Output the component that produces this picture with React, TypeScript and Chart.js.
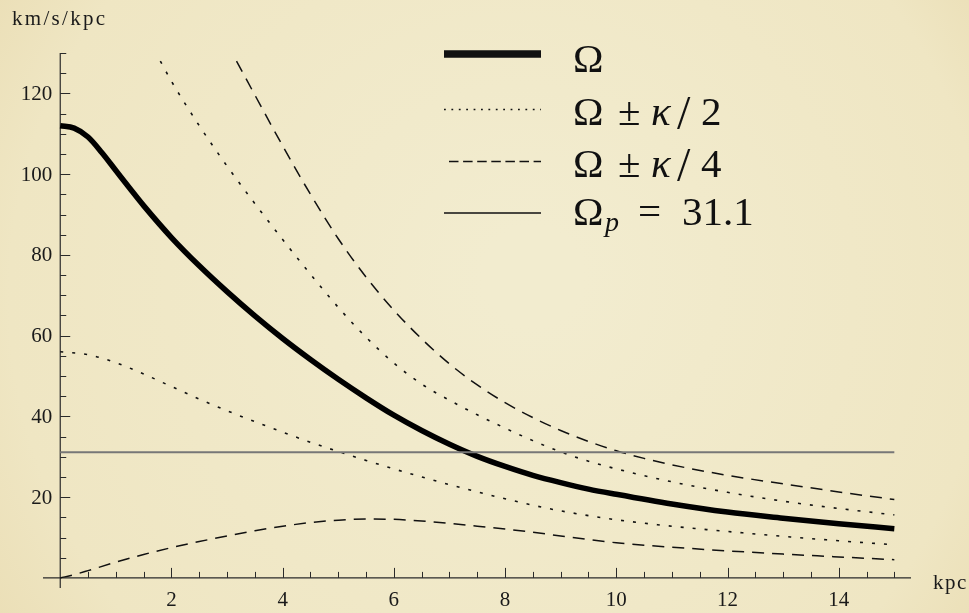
import React, { useEffect, useRef } from 'react';
import { Chart, registerables } from 'chart.js';

Chart.register(...registerables);

// ---------------- data ----------------
const X_OMEGA = [0, 0.25, 0.5, 0.75, 1, 1.25, 1.5, 2, 2.5, 3, 3.5, 4, 4.5, 5, 5.5, 6, 6.5, 7, 7.5, 8, 8.5, 9, 9.5, 10, 11, 12, 13, 14, 15];
const Y_OMEGA = [112, 111.4, 109.2, 105.3, 100.9, 96.5, 92.2, 84.3, 77.3, 70.9, 64.9, 59.3, 54.1, 49.2, 44.6, 40.3, 36.5, 33.1, 30.1, 27.6, 25.4, 23.6, 22.0, 20.7, 18.3, 16.3, 14.8, 13.4, 12.2];

const X_PLUS_K2 = [1.8, 2, 2.5, 3, 3.5, 4, 4.5, 5, 5.5, 6, 6.5, 7, 7.5, 8, 8.5, 9, 9.5, 10, 11, 12, 13, 14, 15];
const Y_PLUS_K2 = [128, 123, 112, 102, 92.7, 83.8, 75.2, 67.0, 59.6, 53.2, 48.0, 44.0, 40.4, 37.1, 34.0, 31.2, 28.9, 27.0, 23.8, 21.2, 19.0, 17.2, 15.6];

const X_MINUS_K2 = [0, 0.5, 1, 1.5, 2, 2.5, 3, 3.5, 4, 4.5, 5, 5.5, 6, 6.5, 7, 7.5, 8, 8.5, 9, 10, 11, 12, 13, 14, 15];
const Y_MINUS_K2 = [56, 55.3, 53.3, 50.5, 47.4, 44.3, 41.4, 38.7, 36.1, 33.6, 31.3, 29.1, 27.0, 25.0, 23.1, 21.3, 19.6, 18.0, 16.6, 14.4, 12.8, 11.5, 10.3, 9.2, 8.2];

const X_PLUS_K4 = [3.17, 3.5, 4, 4.5, 5, 5.5, 6, 6.5, 7, 7.5, 8, 8.5, 9, 9.5, 10, 10.5, 11, 12, 13, 14, 15];
const Y_PLUS_K4 = [128, 119.6, 107.0, 95.0, 84.0, 74.5, 66.3, 59.2, 53.0, 47.8, 43.4, 39.7, 36.5, 33.8, 31.5, 29.6, 28.0, 25.4, 23.3, 21.3, 19.4];

const X_MINUS_K4 = [0, 0.25, 0.5, 1, 1.5, 2, 2.5, 3, 3.5, 4, 4.5, 5, 5.5, 6, 6.5, 7, 7.5, 8, 8.5, 9, 9.5, 10, 10.5, 11, 12, 13, 14, 15];
const Y_MINUS_K4 = [0, 0.8, 1.8, 3.9, 5.8, 7.5, 9.0, 10.4, 11.7, 12.8, 13.7, 14.3, 14.6, 14.5, 14.1, 13.5, 12.8, 12.1, 11.3, 10.4, 9.5, 8.7, 8.1, 7.6, 6.7, 5.9, 5.2, 4.5];

const OMEGA_P = 31.1;
const X_OMEGA_P = [0, 15];

const X_MAJOR_TICKS = [2, 4, 6, 8, 10, 12, 14];
const X_TICK_LABELS = ['2', '4', '6', '8', '10', '12', '14'];
const Y_MAJOR_TICKS = [20, 40, 60, 80, 100, 120];
const Y_TICK_LABELS = ['20', '40', '60', '80', '100', '120'];
const X_MINOR_STEP = 0.5;
const X_TICK_MAX = 15;
const Y_MINOR_STEP = 5;
const Y_TICK_MAX = 130;

const Y_UNIT = 'km/s/kpc';
const X_UNIT = 'kpc';

// ---------------- helpers ----------------
const zip = (xs: number[], ys: number[]) => xs.map((x, i) => ({ x, y: ys[i] }));

const SERIF = '"Liberation Serif", "Times New Roman", serif';

const backgroundPlugin = {
  id: 'parchment',
  beforeDraw(chart: any) {
    const { ctx, width, height } = chart;
    ctx.save();
    const g = ctx.createRadialGradient(width * 0.55, height * 0.45, 50, width * 0.5, height * 0.5, width * 0.7);
    g.addColorStop(0, '#f2eccf');
    g.addColorStop(0.7, '#efe6c3');
    g.addColorStop(1, '#e7d8ab');
    ctx.fillStyle = g;
    ctx.fillRect(0, 0, width, height);
    ctx.restore();
  },
};

const axesPlugin = {
  id: 'mmaAxes',
  beforeDatasetsDraw(chart: any) {
    const { ctx, chartArea } = chart;
    const xs = chart.scales.x;
    const ys = chart.scales.y;
    const x0 = xs.getPixelForValue(0);
    const y0 = ys.getPixelForValue(0);
    ctx.save();
    ctx.strokeStyle = '#2a2a2a';
    ctx.lineWidth = 1.2;
    ctx.beginPath();
    ctx.moveTo(chartArea.left, y0);
    ctx.lineTo(chartArea.right, y0);
    ctx.moveTo(x0, ys.getPixelForValue(Y_TICK_MAX));
    ctx.lineTo(x0, chartArea.bottom);
    ctx.stroke();

    ctx.lineWidth = 1;
    ctx.beginPath();
    for (let v = X_MINOR_STEP; v <= X_TICK_MAX + 1e-9; v += X_MINOR_STEP) {
      const major = X_MAJOR_TICKS.some((t) => Math.abs(t - v) < 1e-9);
      const px = Math.round(xs.getPixelForValue(v)) + 0.5;
      ctx.moveTo(px, y0);
      ctx.lineTo(px, y0 - (major ? 10 : 6));
    }
    for (let v = Y_MINOR_STEP; v <= Y_TICK_MAX + 1e-9; v += Y_MINOR_STEP) {
      const major = Y_MAJOR_TICKS.some((t) => Math.abs(t - v) < 1e-9);
      const py = Math.round(ys.getPixelForValue(v)) + 0.5;
      ctx.moveTo(x0, py);
      ctx.lineTo(x0 + (major ? 10 : 6), py);
    }
    ctx.stroke();

    ctx.fillStyle = '#1a1a1a';
    ctx.font = `21px ${SERIF}`;
    ctx.textBaseline = 'middle';
    ctx.textAlign = 'center';
    X_MAJOR_TICKS.forEach((v, i) => {
      ctx.fillText(X_TICK_LABELS[i], xs.getPixelForValue(v), y0 + 23);
    });
    ctx.textAlign = 'right';
    Y_MAJOR_TICKS.forEach((v, i) => {
      ctx.fillText(Y_TICK_LABELS[i], x0 - 8, ys.getPixelForValue(v) + 1);
    });

    ctx.textBaseline = 'alphabetic';
    ctx.textAlign = 'left';
    (ctx as any).letterSpacing = '2.3px';
    ctx.fillText(Y_UNIT, 12, 25);
    (ctx as any).letterSpacing = '1.5px';
    ctx.fillText(X_UNIT, 933, 589);
    (ctx as any).letterSpacing = '0px';
    ctx.restore();
  },
};

const legendPlugin = {
  id: 'mmaLegend',
  afterDraw(chart: any) {
    const { ctx } = chart;
    ctx.save();
    ctx.strokeStyle = '#111';
    ctx.fillStyle = '#111';
    ctx.lineCap = 'butt';

    const line = (x1: number, x2: number, y: number, w: number, dash: number[]) => {
      ctx.beginPath();
      ctx.lineWidth = w;
      ctx.setLineDash(dash);
      ctx.moveTo(x1, y);
      ctx.lineTo(x2, y);
      ctx.stroke();
      ctx.setLineDash([]);
    };
    line(444, 541, 54, 7.5, []);
    line(444, 541, 109.5, 1.6, [1.8, 5.6]);
    line(449, 541, 161.5, 1.6, [9.5, 4.6]);
    line(444, 541, 213, 1.6, []);

    const up = `41px ${SERIF}`;
    const it = `italic 41px ${SERIF}`;
    const slash = `48px ${SERIF}`;
    const tx = 573;
    ctx.textBaseline = 'alphabetic';
    ctx.textAlign = 'left';
    const put = (s: string, x: number, y: number, f: string) => {
      ctx.font = f;
      ctx.fillText(s, x, y);
    };
    put('Ω', tx, 72, up);

    put('Ω', tx, 125, up);
    put('±', tx + 45, 125, up);
    put('κ', tx + 78, 125, it);
    put('/', tx + 104, 129, slash);
    put('2', tx + 128, 125, up);

    put('Ω', tx, 177, up);
    put('±', tx + 45, 177, up);
    put('κ', tx + 78, 177, it);
    put('/', tx + 104, 181, slash);
    put('4', tx + 128, 177, up);

    put('Ω', tx, 225, up);
    put('p', tx + 32, 231, `italic 28px ${SERIF}`);
    put('=', tx + 65, 225, up);
    put('31.1', tx + 109, 225, up);
    ctx.restore();
  },
};

export default function App() {
  const ref = useRef<HTMLCanvasElement>(null);
  useEffect(() => {
    document.body.style.margin = '0';
    const common = { pointRadius: 0, fill: false, cubicInterpolationMode: 'monotone' as const, borderCapStyle: 'butt' as const, borderJoinStyle: 'round' as const };
    const chart = new Chart(ref.current!, {
      type: 'line',
      data: {
        datasets: [
          { ...common, label: 'Ωp = 31.1', data: zip(X_OMEGA_P, X_OMEGA_P.map(() => OMEGA_P)), borderColor: '#777', borderWidth: 2 },
          { ...common, label: 'Ω − κ/4', data: zip(X_MINUS_K4, Y_MINUS_K4), borderColor: '#111', borderWidth: 1.5, borderDash: [12, 8] },
          { ...common, label: 'Ω + κ/4', data: zip(X_PLUS_K4, Y_PLUS_K4), borderColor: '#111', borderWidth: 1.5, borderDash: [12, 8] },
          { ...common, label: 'Ω − κ/2', data: zip(X_MINUS_K2, Y_MINUS_K2), borderColor: '#111', borderWidth: 1.6, borderDash: [3, 9] },
          { ...common, label: 'Ω + κ/2', data: zip(X_PLUS_K2, Y_PLUS_K2), borderColor: '#111', borderWidth: 1.6, borderDash: [3, 9] },
          { ...common, label: 'Ω', data: zip(X_OMEGA, Y_OMEGA), borderColor: '#000', borderWidth: 5.5 },
        ],
      },
      options: {
        animation: false,
        responsive: true,
        maintainAspectRatio: false,
        layout: { padding: { left: 43, right: 58, top: 53, bottom: 25 } },
        scales: {
          x: { type: 'linear', min: -0.31, max: 15.3, display: false },
          y: { type: 'linear', min: -2.5, max: 130, display: false },
        },
        plugins: { legend: { display: false }, tooltip: { enabled: false } },
        events: [],
      },
      plugins: [backgroundPlugin, axesPlugin, legendPlugin],
    });
    return () => chart.destroy();
  }, []);
  return (
    <div style={{ width: 969, height: 613, position: 'relative' }}>
      <canvas ref={ref} />
    </div>
  );
}
